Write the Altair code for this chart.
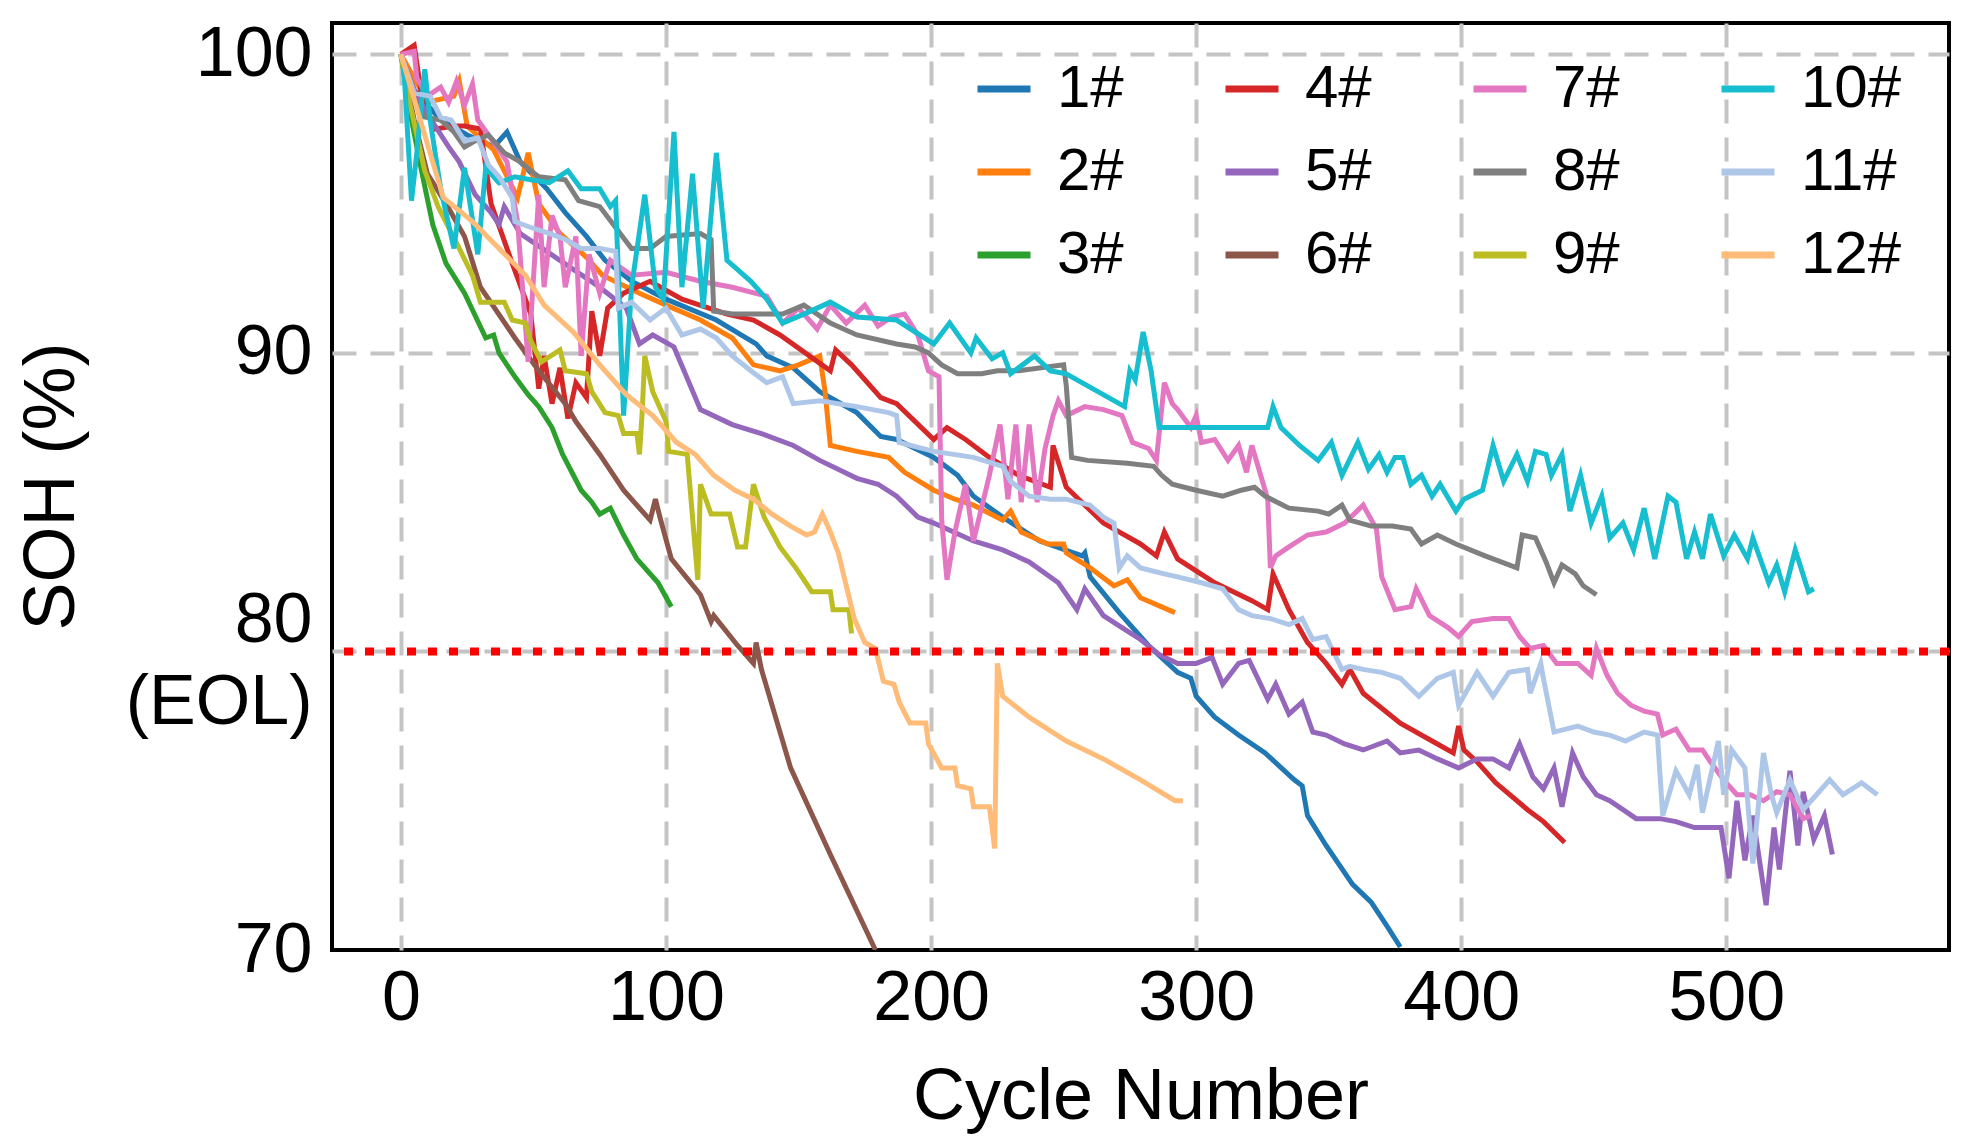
import pandas as pd
import altair as alt

FONT = "Liberation Sans"

names = [f"{i}#" for i in range(1, 13)]
colors = ["#1f77b4", "#ff7f0e", "#2ca02c", "#d62728", "#9467bd", "#8c564b",
          "#e377c2", "#7f7f7f", "#bcbd22", "#17becf", "#aec7e8", "#ffbb78"]

# cycle number / SOH (%), one pair of lists per cell
c1 = [0, 5, 15, 25, 35, 40, 45, 55, 62, 70, 77, 87, 100, 119, 134, 138, 148, 158, 172, 181,
      187, 201, 210, 216, 227, 241, 257, 258, 260, 271, 282, 293, 298, 300, 307, 316, 326, 337, 340, 342,
      349, 359, 366, 372, 377]
s1 = [100, 98.8, 97.8, 97.3, 96.9, 97.4, 96.4, 95.5, 94.7, 93.9, 93.1, 92.4, 91.8, 91.1, 90.3, 89.9, 89.5, 88.7, 88.0, 87.2,
      87.1, 86.5, 85.9, 85.2, 84.5, 83.7, 83.2, 83.3, 82.5, 81.3, 80.2, 79.3, 79.1, 78.5, 77.8, 77.2, 76.6, 75.7, 75.5, 74.5,
      73.5, 72.2, 71.6, 70.8, 70.1]

c2 = [0, 10, 20, 22, 25, 35, 44, 48, 52, 60, 70, 76, 90, 100, 113, 125, 133, 143, 150, 158,
      160, 162, 172, 184, 190, 201, 209, 216, 227, 230, 234, 244, 250, 251, 260, 269, 274, 279, 292]
s2 = [100, 98.4, 98.6, 99.1, 97.6, 96.8, 95.2, 96.7, 95.0, 94.0, 93.2, 92.6, 92.0, 91.6, 91.1, 90.5, 89.6, 89.4, 89.6, 89.9,
      88.7, 86.9, 86.7, 86.5, 86.0, 85.4, 85.1, 84.9, 84.4, 84.7, 84.0, 83.6, 83.6, 83.3, 82.8, 82.2, 82.4, 81.8, 81.3]

c3 = [0, 4, 8, 12, 17, 24, 32, 35, 37, 43, 48, 52, 57, 61, 68, 72, 75, 79, 84, 89, 97, 102]
s3 = [100, 97.8, 96.0, 94.3, 93.0, 92.0, 90.5, 90.6, 90.0, 89.2, 88.6, 88.2, 87.5, 86.6, 85.4, 85.0, 84.6, 84.8, 83.9, 83.1,
      82.3, 81.5]

c4 = [0, 5, 8, 13, 20, 24, 30, 34, 42, 49, 52, 54, 57, 60, 63, 66, 70, 72, 75, 78,
      84, 94, 106, 123, 133, 143, 162, 164, 170, 181, 187, 201, 206, 213, 222, 233, 245, 246, 251, 265,
      279, 285, 288, 293, 307, 321, 327, 329, 335, 342, 349, 355, 358, 363, 377, 391, 397, 399, 401, 406,
      413, 425, 431, 439]
s4 = [100, 100.3, 98.5, 97.5, 97.6, 97.6, 97.5, 95.0, 93.0, 91.3, 88.8, 89.9, 88.3, 89.5, 87.8, 89.0, 88.5, 91.4, 89.9, 91.5,
      92.0, 92.4, 91.8, 91.3, 91.1, 90.6, 89.4, 90.1, 89.6, 88.5, 88.3, 87.1, 87.5, 87.1, 86.5, 85.9, 85.5, 86.9, 85.5, 84.3,
      83.6, 83.2, 84.0, 83.1, 82.3, 81.7, 81.4, 82.6, 81.4, 80.3, 79.6, 78.9, 79.4, 78.6, 77.6, 76.9, 76.6, 77.5, 76.7, 76.3,
      75.6, 74.7, 74.3, 73.6]

c5 = [0, 5, 10, 18, 22, 28, 34, 37, 39, 45, 55, 65, 75, 85, 90, 95, 103, 113, 125, 136,
      148, 158, 172, 180, 187, 195, 201, 206, 216, 227, 237, 248, 255, 258, 265, 272, 279, 286, 293, 300,
      306, 310, 316, 320, 327, 330, 335, 340, 344, 349, 356, 363, 372, 377, 384, 391, 399, 406, 412, 418,
      422, 427, 431, 435, 438, 442, 446, 451, 456, 461, 466, 475, 481, 488, 498, 501, 504, 507, 510, 515,
      518, 520, 524, 527, 529, 533, 537, 540]
s5 = [100, 98.8, 98.0, 96.9, 96.4, 95.3, 94.7, 94.3, 94.9, 94.0, 93.4, 92.8, 92.2, 91.5, 90.3, 90.6, 90.2, 88.1, 87.6, 87.3,
      86.9, 86.4, 85.8, 85.6, 85.2, 84.5, 84.3, 84.1, 83.7, 83.4, 83.0, 82.3, 81.4, 82.1, 81.2, 80.8, 80.4, 79.9, 79.6, 79.6,
      79.8, 78.9, 79.6, 79.7, 78.4, 78.9, 77.9, 78.3, 77.3, 77.2, 76.9, 76.7, 77.0, 76.6, 76.7, 76.4, 76.1, 76.4, 76.4, 76.1,
      76.9, 75.8, 75.4, 76.1, 74.8, 76.6, 75.8, 75.2, 75.0, 74.7, 74.4, 74.4, 74.3, 74.1, 74.1, 72.4, 75.0, 73.0, 74.5, 71.5,
      74.1, 72.7, 76.0, 73.5, 75.3, 73.7, 74.5, 73.2]

c6 = [0, 5, 10, 17, 24, 30, 43, 52, 62, 66, 75, 84, 94, 96, 98, 102, 113, 117, 118, 127,
      133, 134, 136, 147, 162, 179]
s6 = [100, 97.8, 96.0, 95.0, 93.9, 92.2, 90.5, 89.4, 88.3, 87.7, 86.6, 85.4, 84.4, 85.1, 84.4, 83.1, 81.9, 81.0, 81.2, 80.2,
      79.6, 80.3, 79.4, 76.1, 73.2, 70.0]

c7 = [0, 5, 6, 10, 15, 18, 21, 24, 27, 29, 33, 37, 40, 44, 48, 52, 54, 57, 60, 62,
      66, 68, 71, 75, 79, 87, 100, 113, 125, 138, 144, 150, 157, 162, 168, 175, 180, 185, 190, 195,
      199, 203, 204, 206, 209, 213, 216, 222, 226, 229, 232, 234, 237, 240, 243, 246, 248, 251, 258, 265,
      272, 276, 282, 285, 288, 291, 293, 298, 300, 302, 307, 312, 316, 319, 321, 324, 327, 328, 330, 335,
      342, 349, 356, 363, 368, 370, 375, 381, 383, 388, 395, 399, 404, 412, 418, 422, 426, 431, 436, 444,
      449, 451, 455, 459, 464, 469, 474, 476, 481, 486, 491, 494, 499, 504, 509, 514, 519, 524, 529, 532]
s7 = [100, 100.1, 99.2, 98.6, 98.9, 98.4, 99.1, 98.3, 99.0, 97.8, 97.3, 96.8, 96.4, 94.4, 89.7, 95.3, 92.2, 94.6, 93.9, 92.2,
      93.9, 89.9, 93.3, 92.0, 93.1, 92.6, 92.7, 92.4, 92.2, 91.9, 91.0, 91.5, 90.8, 91.6, 91.0, 91.6, 90.9, 91.2, 91.3, 90.6,
      89.4, 89.2, 84.4, 82.4, 84.0, 85.6, 83.7, 85.9, 87.6, 85.1, 87.6, 85.0, 87.6, 85.0, 86.8, 87.9, 88.4, 87.9, 88.2, 88.1,
      87.9, 87.0, 86.8, 86.4, 89.0, 88.3, 88.1, 87.5, 87.9, 87.0, 87.1, 86.4, 86.9, 86.0, 86.9, 86.0, 85.1, 82.8, 83.2, 83.5,
      83.9, 84.0, 84.3, 84.9, 84.1, 82.5, 81.4, 81.5, 82.1, 81.2, 80.8, 80.5, 81.0, 81.1, 81.1, 80.5, 80.1, 80.2, 79.6, 79.6,
      79.2, 80.1, 79.2, 78.6, 78.2, 78.0, 77.9, 77.2, 77.4, 76.7, 76.7, 76.3, 75.7, 75.2, 75.2, 75.0, 75.3, 75.2, 74.4, 74.5]

c8 = [0, 5, 9, 15, 20, 24, 28, 33, 39, 45, 49, 52, 62, 67, 75, 81, 87, 94, 100, 113,
      117, 118, 125, 135, 144, 152, 162, 172, 187, 194, 199, 204, 210, 219, 225, 233, 250, 251, 253, 259,
      274, 284, 287, 291, 300, 310, 317, 322, 326, 335, 346, 350, 355, 358, 366, 374, 381, 385, 391, 398,
      409, 421, 423, 428, 432, 435, 438, 443, 446, 451]
s8 = [100, 98.5, 97.9, 97.8, 97.4, 96.9, 97.1, 97.3, 96.7, 96.4, 96.1, 95.9, 95.8, 95.1, 94.9, 94.2, 93.5, 93.5, 93.9, 94.0,
      93.8, 91.4, 91.3, 91.3, 91.3, 91.6, 91.0, 90.6, 90.3, 90.2, 90.0, 89.6, 89.3, 89.3, 89.4, 89.4, 89.6, 88.9, 86.5, 86.4,
      86.3, 86.2, 85.9, 85.6, 85.4, 85.2, 85.4, 85.5, 85.2, 84.8, 84.7, 84.6, 84.9, 84.4, 84.2, 84.2, 84.1, 83.6, 83.9, 83.6,
      83.2, 82.8, 83.9, 83.8, 83.0, 82.3, 82.9, 82.6, 82.2, 81.9]

c9 = [0, 3, 9, 14, 22, 27, 30, 39, 42, 47, 49, 53, 60, 62, 70, 72, 77, 82, 84, 89,
      90, 91, 92, 95, 99, 100, 101, 108, 112, 113, 117, 124, 127, 130, 133, 137, 143, 149, 155, 162,
      163, 169, 170]
s9 = [100, 98.5, 96.1, 94.9, 93.5, 92.6, 91.7, 91.7, 91.1, 91.0, 90.4, 89.7, 90.1, 89.4, 89.3, 88.7, 88.0, 87.9, 87.3, 87.3,
      86.6, 88.0, 89.9, 88.7, 87.9, 87.7, 86.7, 86.6, 82.4, 85.6, 84.6, 84.6, 83.5, 83.5, 85.6, 84.5, 83.5, 82.8, 82.0, 82.0,
      81.4, 81.4, 80.6]

c10 = [0, 1, 4, 6, 9, 11, 15, 20, 24, 29, 32, 37, 43, 49, 56, 63, 68, 75, 79, 81,
       84, 87, 92, 96, 99, 103, 106, 110, 114, 119, 123, 132, 138, 144, 152, 162, 172, 187, 201, 207,
       215, 217, 223, 227, 230, 239, 245, 251, 273, 275, 277, 280, 283, 286, 327, 329, 332, 339, 346, 351,
       355, 361, 365, 369, 372, 375, 378, 381, 385, 389, 392, 398, 401, 408, 412, 416, 421, 425, 428, 432,
       434, 438, 441, 445, 449, 453, 456, 461, 465, 469, 473, 478, 481, 485, 488, 491, 494, 499, 503, 508,
       510, 516, 519, 522, 526, 531, 533]
s10 = [100, 99.7, 95.1, 96.7, 99.5, 97.8, 95.5, 93.5, 96.2, 93.3, 96.2, 95.7, 95.9, 95.8, 95.7, 96.1, 95.5, 95.5, 94.9, 95.1,
       87.9, 92.2, 95.3, 92.2, 91.8, 97.4, 92.2, 96.0, 91.5, 96.7, 93.1, 92.4, 91.8, 91.0, 91.3, 91.7, 91.2, 91.1, 90.3, 91.0,
       90.0, 90.5, 89.8, 90.0, 89.3, 89.9, 89.4, 89.3, 88.2, 89.4, 89.1, 90.7, 89.4, 87.5, 87.5, 88.2, 87.5, 86.9, 86.4, 87.0,
       85.9, 87.0, 86.1, 86.6, 86.0, 86.5, 86.5, 85.6, 85.9, 85.2, 85.6, 84.7, 85.1, 85.4, 86.9, 85.7, 86.6, 85.7, 86.7, 86.6,
       85.9, 86.6, 84.7, 85.9, 84.3, 85.2, 83.8, 84.3, 83.4, 84.8, 83.1, 85.2, 85.0, 83.1, 84.0, 83.1, 84.6, 83.2, 83.9, 83.1,
       83.8, 82.3, 82.9, 82.0, 83.4, 82.0, 82.1]

c11 = [0, 5, 11, 15, 19, 24, 29, 33, 37, 42, 43, 49, 56, 62, 68, 75, 81, 82, 87, 94,
       100, 106, 113, 119, 125, 132, 138, 144, 148, 158, 172, 184, 187, 188, 201, 216, 227, 230, 237, 245,
       251, 260, 265, 269, 271, 274, 279, 288, 293, 302, 310, 316, 321, 328, 335, 340, 344, 349, 355, 358,
       363, 370, 377, 384, 391, 397, 399, 406, 412, 418, 425, 426, 430, 431, 435, 444, 450, 456, 462, 469,
       474, 476, 481, 486, 489, 491, 494, 497, 499, 502, 507, 510, 514, 517, 519, 524, 529, 534, 539, 544,
       551, 557]
s11 = [100, 98.7, 98.6, 97.9, 97.8, 97.1, 97.2, 96.3, 95.9, 95.2, 94.4, 94.2, 94.0, 93.8, 93.5, 93.5, 93.4, 91.5, 91.7, 91.1,
       91.5, 90.6, 90.8, 90.5, 89.9, 89.4, 89.0, 89.2, 88.3, 88.4, 88.2, 88.0, 87.9, 87.0, 86.7, 86.5, 86.2, 85.7, 85.2, 85.1,
       85.1, 84.9, 84.5, 84.3, 82.8, 83.2, 82.8, 82.6, 82.5, 82.3, 82.1, 81.4, 81.2, 81.1, 80.9, 81.1, 80.4, 80.5, 79.4, 79.5,
       79.4, 79.3, 79.1, 78.5, 79.1, 79.3, 78.2, 79.3, 78.5, 79.3, 79.4, 78.6, 79.6, 79.1, 77.3, 77.5, 77.3, 77.2, 77.0, 77.3,
       77.2, 74.5, 76.0, 75.2, 76.2, 74.6, 75.8, 77.0, 75.2, 76.7, 76.1, 72.9, 76.6, 75.2, 74.6, 75.7, 74.7, 75.2, 75.7, 75.2,
       75.6, 75.2]

c12 = [0, 6, 11, 16, 27, 37, 47, 54, 65, 75, 85, 95, 104, 111, 118, 126, 133, 140, 147, 153,
       156, 159, 162, 165, 168, 171, 175, 179, 182, 186, 188, 192, 198, 199, 204, 209, 210, 215, 216, 222,
       224, 225, 227, 237, 251, 265, 279, 292, 295]
s12 = [100, 98.2, 96.7, 95.2, 94.4, 93.5, 92.6, 91.6, 90.7, 89.6, 88.6, 87.9, 87.0, 86.6, 85.9, 85.4, 85.1, 84.6, 84.2, 83.9,
       84.0, 84.6, 84.0, 83.3, 82.2, 81.1, 80.3, 80.1, 79.0, 78.9, 78.3, 77.6, 77.6, 76.9, 76.1, 76.1, 75.5, 75.4, 74.8, 74.8,
       73.4, 79.6, 78.5, 77.8, 77.0, 76.4, 75.7, 75.0, 75.0]

cycles = [c1, c2, c3, c4, c5, c6, c7, c8, c9, c10, c11, c12]
sohs = [s1, s2, s3, s4, s5, s6, s7, s8, s9, s10, s11, s12]

frames = []
for name, c, s in zip(names, cycles, sohs):
    d = pd.DataFrame({"cycle": c, "soh": s})
    d["cell"] = name
    d["step"] = range(len(d))
    frames.append(d)
df = pd.concat(frames, ignore_index=True)

lines = alt.Chart(df).mark_line(strokeWidth=5, clip=True).encode(
    x=alt.X(
        "cycle:Q",
        scale=alt.Scale(domain=[-26, 584], nice=False, zero=False),
        axis=alt.Axis(
            values=[0, 100, 200, 300, 400, 500],
            title="Cycle Number",
            labelPadding=14,
            titleY=146,
            titleBaseline="middle",
        ),
    ),
    y=alt.Y(
        "soh:Q",
        scale=alt.Scale(domain=[70, 101.05], nice=False, zero=False),
        axis=alt.Axis(
            values=[70, 80, 90, 100],
            title="SOH (%)",
            labelExpr="datum.value == 80 ? ['80', '(EOL)'] : datum.label",
            labelLineHeight=82,
            labelLimit=400,
            labelOffset={"condition": {"test": "datum.value == 80", "value": -31}, "value": 0},
            labelPadding=20,
            # no grid on the bottom frame edge
            gridOpacity={"condition": {"test": "datum.value == 70", "value": 0}, "value": 1},
            titleX=-281,
            titleY=463,
            titleAlign="center",
            titleBaseline="middle",
        ),
    ),
    # the legend of the figure is filled column by column: 1#-3#, 4#-6#, ...
    color=alt.Color(
        "cell:N",
        scale=alt.Scale(domain=names, range=colors),
        legend=alt.Legend(
            title=None,
            orient="none",
            legendX=642,
            legendY=36,
            columns=4,
            symbolType="stroke",
            symbolSize=2809,
            symbolStrokeWidth=7,
            labelFontSize=60,
            labelFont=FONT,
            labelColor="black",
            labelOffset=23,
            labelLimit=300,
            columnPadding=87,
            rowPadding=23,
            padding=0,
        ),
    ),
    order="step:Q",
)

eol = alt.Chart(pd.DataFrame({"soh": [80]})).mark_rule(
    color="#ff0000", strokeWidth=8, strokeDash=[9, 12]
).encode(y="soh:Q")

chart = (
    (lines + eol)
    .properties(
        width=1617,
        height=927,
        autosize=alt.AutoSizeParams(type="none"),
        padding={"left": 324, "top": 15, "right": 16, "bottom": 196},
    )
    .configure_view(stroke="black", strokeWidth=4)
    .configure_axis(
        labelFont=FONT,
        titleFont=FONT,
        labelFontSize=70,
        titleFontSize=72,
        titleFontWeight="normal",
        labelColor="black",
        titleColor="black",
        grid=True,
        gridColor="#c4c4c4",
        gridDash=[24, 14],
        gridWidth=4,
        ticks=False,
        domain=False,
        labelFlush=False,
    )
)

chart.save("out.html", embed_options={"renderer": "svg", "actions": False})
